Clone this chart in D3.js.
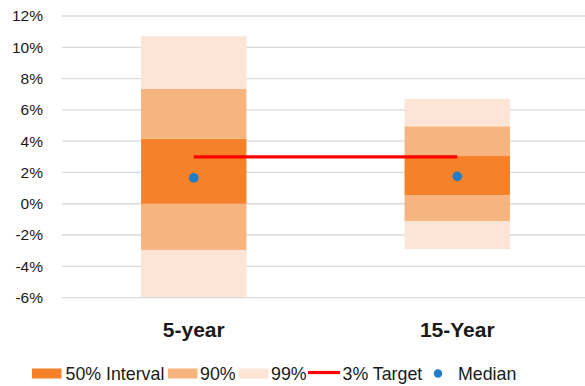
<!DOCTYPE html>
<html>
<head>
<meta charset="utf-8">
<script src="https://cdn.jsdelivr.net/npm/d3@7"></script>
<style>
  html, body { margin: 0; padding: 0; background: #fff; }
  svg { display: block; font-family: "Liberation Sans", Arial, sans-serif; }
</style>
</head>
<body>
<svg id="chart" width="585" height="386"></svg>
<script>
// Horizons and their interval bounds (in %)
const categories = ["5-year", "15-Year"];
const lower99 = [-5.95, -2.9];
const lower90 = [-2.95, -1.1];
const lower50 = [0.0, 0.55];
const upper50 = [4.15, 3.05];
const upper90 = [7.35, 4.95];
const upper99 = [10.7, 6.7];
const median = [1.65, 1.75];
const target = 3;
const yTicks = [-6, -4, -2, 0, 2, 4, 6, 8, 10, 12];

const colors = {
  i50: "#F58229",
  i90: "#F8B47E",
  i99: "#FDE5D5",
  target: "#FF0000",
  median: "#1F7CC6",
  grid: "#D9D9D9",
  text: "#1a1a1a"
};

const svg = d3.select("#chart");

const x = d3.scaleBand()
  .domain(categories)
  .range([62, 589])
  .paddingInner(0.6)
  .paddingOuter(0.3);

const y = d3.scaleLinear()
  .domain([-6, 12])
  .range([297.6, 16]);

// Gridlines
svg.append("g")
  .selectAll("line")
  .data(yTicks)
  .join("line")
  .attr("x1", 62)
  .attr("x2", 585)
  .attr("y1", d => y(d))
  .attr("y2", d => y(d))
  .attr("stroke", colors.grid)
  .attr("stroke-width", 1.3);

// Y axis labels
const yAxis = d3.axisLeft(y)
  .tickValues(yTicks)
  .tickFormat(d => d + "%")
  .tickSize(0)
  .tickPadding(0);

svg.append("g")
  .attr("transform", "translate(43,0)")
  .call(yAxis)
  .call(g => g.select(".domain").remove())
  .call(g => g.selectAll("text")
    .attr("font-size", "15.5px")
    .attr("font-family", "'Liberation Sans', Arial, sans-serif")
    .attr("fill", colors.text));

// Interval bands, widest first
const bands = [
  { lo: lower99, hi: lower90, color: colors.i99 },
  { lo: lower90, hi: lower50, color: colors.i90 },
  { lo: lower50, hi: upper50, color: colors.i50 },
  { lo: upper50, hi: upper90, color: colors.i90 },
  { lo: upper90, hi: upper99, color: colors.i99 }
];

const barG = svg.append("g");
bands.forEach(b => {
  barG.append("g")
    .selectAll("rect")
    .data(categories)
    .join("rect")
    .attr("x", d => x(d))
    .attr("width", x.bandwidth())
    .attr("y", (d, i) => y(b.hi[i]))
    .attr("height", (d, i) => y(b.lo[i]) - y(b.hi[i]))
    .attr("fill", b.color);
});

// Target line between the horizon centers
const cx = d => x(d) + x.bandwidth() / 2;
svg.append("line")
  .attr("x1", cx(categories[0]))
  .attr("x2", cx(categories[categories.length - 1]))
  .attr("y1", y(target))
  .attr("y2", y(target))
  .attr("stroke", colors.target)
  .attr("stroke-width", 3.2);

// Medians
svg.append("g")
  .selectAll("circle")
  .data(categories)
  .join("circle")
  .attr("cx", d => cx(d))
  .attr("cy", (d, i) => y(median[i]))
  .attr("r", 4.8)
  .attr("fill", colors.median);

// Category labels
svg.append("g")
  .selectAll("text")
  .data(categories)
  .join("text")
  .attr("x", d => cx(d))
  .attr("y", 337)
  .attr("text-anchor", "middle")
  .attr("font-size", "21px")
  .attr("font-weight", "bold")
  .attr("fill", colors.text)
  .text(d => d);

// Legend
const legendY = 373.5;
const legendItems = [
  { type: "rect", color: colors.i50, label: "50% Interval", x0: 32, tx: 65.5 },
  { type: "rect", color: colors.i90, label: "90%", x0: 168, tx: 200 },
  { type: "rect", color: colors.i99, label: "99%", x0: 239, tx: 271 },
  { type: "line", color: colors.target, label: "3% Target", x0: 308, tx: 342.5 },
  { type: "dot", color: colors.median, label: "Median", x0: 438, tx: 458 }
];

const lg = svg.append("g");
legendItems.forEach(it => {
  if (it.type === "rect") {
    lg.append("rect")
      .attr("x", it.x0).attr("y", legendY - 5)
      .attr("width", 29.5).attr("height", 10)
      .attr("fill", it.color);
  } else if (it.type === "line") {
    lg.append("line")
      .attr("x1", it.x0).attr("x2", it.x0 + 32)
      .attr("y1", legendY - 1).attr("y2", legendY - 1)
      .attr("stroke", it.color).attr("stroke-width", 3.2);
  } else {
    lg.append("circle")
      .attr("cx", it.x0).attr("cy", legendY)
      .attr("r", 4.2)
      .attr("fill", it.color);
  }
  lg.append("text")
    .attr("x", it.tx)
    .attr("y", legendY + 6)
    .attr("font-size", "17.8px")
    .attr("fill", colors.text)
    .text(it.label);
});
</script>
</body>
</html>
